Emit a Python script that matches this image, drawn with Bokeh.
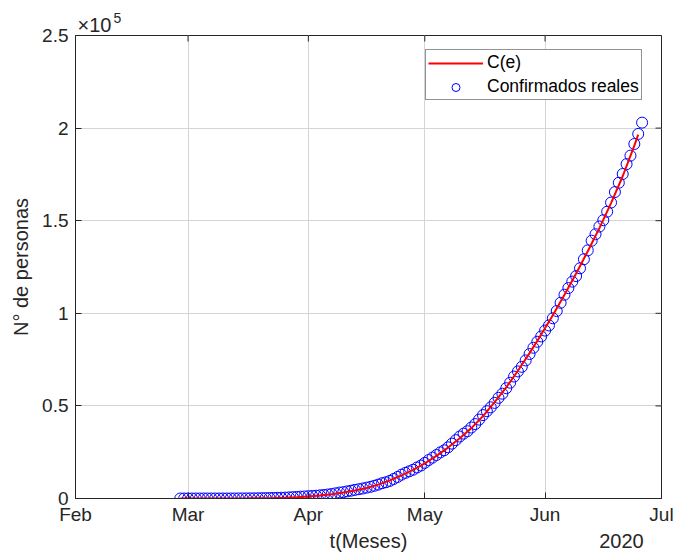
import pandas as pd
from datetime import datetime
from bokeh.plotting import figure
from bokeh.models import (Range1d, FixedTicker, DatetimeTickFormatter, LinearAxis,
                          Legend, LegendItem, CustomJSTickFormatter)
from bokeh.embed import file_html
from bokeh.resources import INLINE

# ---------------- data ----------------
first_day = "2020-02-28"
confirmados = [
    1, 1,
    4, 5, 5, 5, 5, 5, 6, 6, 7, 7, 7, 8, 12, 26, 41, 53, 82, 93, 118, 164, 203, 251,
    316, 367, 405, 475, 585, 717, 848, 993, 1094,
    1215, 1378, 1510, 1688, 1890, 2143, 2439, 2785, 3181, 3441, 3844, 4219, 4661, 5014,
    5399, 5847, 6297, 6875, 7497, 8261, 8772, 9501, 10544, 11633, 12872, 13842, 14677,
    15529, 16752, 17799,
    19224, 20739, 22088, 23471, 24905, 26025, 27634, 29616, 31522, 33460, 35022, 36327,
    38324, 40186, 42595, 45032, 47144, 49219, 51633, 54346, 56594, 59567, 62527, 65856,
    68620, 71105, 74560, 78023, 81400, 84627, 87512,
    90664, 93435, 97326, 101238, 105680, 110026, 113619, 117103, 120102, 124301, 129184,
    133974, 139196, 142690, 146837, 150264, 154863, 159793, 165455, 170485, 175202,
    180545, 185122, 191410, 196847, 202951,
]
model_dates = [
    "2020-02-28", "2020-03-02", "2020-03-05", "2020-03-08", "2020-03-11", "2020-03-14",
    "2020-03-17", "2020-03-20", "2020-03-23", "2020-03-26", "2020-03-29", "2020-04-01",
    "2020-04-04", "2020-04-07", "2020-04-10", "2020-04-13", "2020-04-16", "2020-04-19",
    "2020-04-22", "2020-04-25", "2020-04-28", "2020-05-01", "2020-05-04", "2020-05-07",
    "2020-05-10", "2020-05-13", "2020-05-16", "2020-05-19", "2020-05-22", "2020-05-25",
    "2020-05-28", "2020-05-31", "2020-06-03", "2020-06-06", "2020-06-09", "2020-06-12",
    "2020-06-15", "2020-06-18", "2020-06-21", "2020-06-24", "2020-06-25",
]
model_values = [
    0, 0, 3, 10, 25, 55, 100, 170, 280, 450, 700,
    1100, 1600, 2300, 3200, 4300, 5700, 7500, 9800, 12500, 15500,
    19000, 23000, 27500, 32500, 38000, 44500, 52000, 60000, 69000, 78500, 88500,
    99000, 110000, 121500, 133500, 146000, 159500, 174000, 190500, 196500,
]
month_ticks = ["2020-02-01", "2020-03-01", "2020-04-01", "2020-05-01", "2020-06-01", "2020-07-01"]
y_ticks = [0, 50000, 100000, 150000, 200000, 250000]
y_tick_labels = ["0", "0.5", "1", "1.5", "2", "2.5"]
year_label = "2020"
x_title = "t(Meses)"
y_title = "N° de personas"
exp_base = "×10"
exp_power = "5"
legend_labels = ["C(e)", "Confirmados reales"]

# ---------------- figure ----------------
FONT = "Liberation Sans"
AX = "#262626"
W, H = 676, 554
L, R, T, B = 75, 15, 35, 56
TICK = 6

dates = pd.date_range(first_day, periods=len(confirmados), freq="D")
mdates = pd.to_datetime(model_dates)
tick_ms = [pd.Timestamp(d).value / 1e6 for d in month_ticks]

x0, x1 = datetime(2020, 2, 1), datetime(2020, 7, 1)
y0, y1 = 0, 250000
x0ms, x1ms = pd.Timestamp(x0).value / 1e6, pd.Timestamp(x1).value / 1e6
fw, fh = W - L - R, H - T - B

def dx(px):
    return x0ms + (px - L) / fw * (x1ms - x0ms)

p = figure(width=W, height=H, x_axis_type="datetime",
           x_range=Range1d(x0, x1), y_range=Range1d(y0, y1),
           output_backend="svg", toolbar_location=None,
           min_border_left=L, min_border_right=R, min_border_top=T, min_border_bottom=B)
p.background_fill_color = "white"
p.border_fill_color = "white"
p.outline_line_color = AX
p.outline_line_width = 1

xt = FixedTicker(ticks=tick_ms)
yt = FixedTicker(ticks=y_ticks)
fmt = DatetimeTickFormatter(milliseconds="%b", seconds="%b", minsec="%b", minutes="%b",
                            hourmin="%b", hours="%b", days="%b", months="%b", years="%b")

def style_axis(ax, size="19px"):
    ax.axis_line_color = AX
    ax.axis_line_width = 1
    ax.major_tick_line_color = AX
    ax.major_tick_in = TICK
    ax.major_tick_out = 0
    ax.minor_tick_in = 0
    ax.minor_tick_out = 0
    ax.major_label_text_color = AX
    ax.major_label_text_font = FONT
    ax.major_label_text_font_size = size
    ax.axis_label_text_color = AX
    ax.axis_label_text_font = FONT
    ax.axis_label_text_font_size = "20px"
    ax.axis_label_text_font_style = "normal"

def text_axis(ax):
    ax.axis_line_color = None
    ax.major_tick_line_color = None
    ax.minor_tick_line_color = None
    ax.major_tick_in = 0
    ax.major_tick_out = 0
    ax.minor_tick_in = 0
    ax.minor_tick_out = 0

xa = p.xaxis[0]
xa.ticker = xt
xa.formatter = fmt
style_axis(xa)
xa.major_label_standoff = 5

ya = p.yaxis[0]
ya.ticker = yt
ya.major_label_overrides = dict(zip(y_ticks, y_tick_labels))
style_axis(ya)
ya.major_label_standoff = 7
ya.axis_label = y_title
ya.axis_label_standoff = 7

# second bottom row: axis title and year, as a label-only axis
bottom_texts = [x_title, year_label]
row = LinearAxis(ticker=FixedTicker(ticks=[dx(L + fw / 2), dx(621)]),
                 formatter=CustomJSTickFormatter(args=dict(labels=bottom_texts),
                                                 code="return labels[index]"))
style_axis(row, "20px")
text_axis(row)
row.major_label_standoff = 2
p.add_layout(row, "below")

# exponent "×10^5" above the frame, as label-only axes
exp1 = LinearAxis(ticker=FixedTicker(ticks=[dx(94)]),
                  formatter=CustomJSTickFormatter(args=dict(labels=[exp_base]),
                                                  code="return labels[index]"))
style_axis(exp1, "20px")
text_axis(exp1)
exp1.major_label_standoff = 0
p.add_layout(exp1, "above")

exp2 = LinearAxis(ticker=FixedTicker(ticks=[dx(117)]),
                  formatter=CustomJSTickFormatter(args=dict(labels=[exp_power]),
                                                  code="return labels[index]"))
style_axis(exp2, "14px")
text_axis(exp2)
exp2.major_label_standoff = -12
p.add_layout(exp2, "above")

p.xgrid.ticker = xt
p.ygrid.ticker = yt
for g in (p.xgrid[0], p.ygrid[0]):
    g.grid_line_color = "#d4d4d4"
    g.grid_line_width = 1

# inward ticks on the top and right edges of the box
tick_dy = TICK / fh * (y1 - y0)
tick_dx = TICK / fw * (x1ms - x0ms)
p.segment(x0=tick_ms, y0=[y1] * len(tick_ms), x1=tick_ms, y1=[y1 - tick_dy] * len(tick_ms),
          line_color=AX, line_width=1)
p.segment(x0=[x1ms] * len(y_ticks), y0=y_ticks, x1=[x1ms - tick_dx] * len(y_ticks), y1=y_ticks,
          line_color=AX, line_width=1)

circ = p.scatter(dates, confirmados, marker="circle", size=11, fill_color=None,
                 line_color="#0000ff", line_width=1)
line = p.line(mdates, model_values, line_color="#ff0000", line_width=2)

legend = Legend(items=[LegendItem(label=legend_labels[0], renderers=[line]),
                       LegendItem(label=legend_labels[1], renderers=[circ])],
                location=(350, 398))
legend.border_line_color = AX
legend.border_line_width = 1
legend.background_fill_color = "white"
legend.background_fill_alpha = 1
legend.label_text_font = FONT
legend.label_text_font_size = "17.5px"
legend.label_text_color = "black"
legend.glyph_width = 55
legend.glyph_height = 20
legend.label_height = 20
legend.padding = 2
legend.spacing = 3
legend.margin = 0
legend.label_standoff = 4
p.add_layout(legend)

open("out.html", "w").write(file_html(p, INLINE))
